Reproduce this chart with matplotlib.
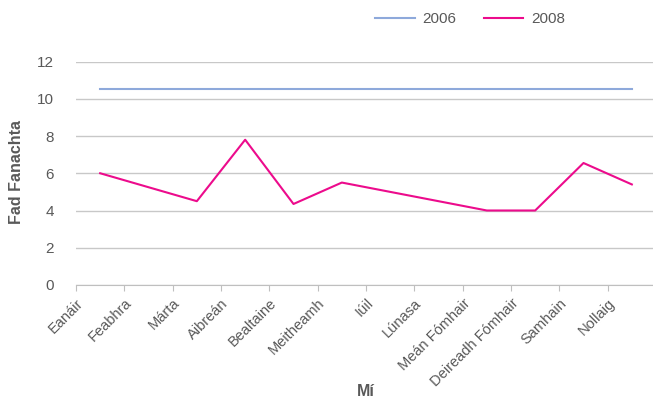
import matplotlib
matplotlib.use("Agg")
import matplotlib.pyplot as plt
import numpy as np

plt.rcParams['font.family'] = ['Liberation Sans', 'DejaVu Sans']

months = ['Eanáir', 'Feabhra', 'Márta', 'Aibreán', 'Bealtaine', 'Meitheamh',
          'Iúil', 'Lúnasa', 'Meán Fómhair', 'Deireadh Fómhair', 'Samhain', 'Nollaig']
vals_2006 = [10.5, 10.5, 10.5, 10.5, 10.5, 10.5, 10.5, 10.5, 10.5, 10.5, 10.5, 10.5]
vals_2008 = [6.0, 5.25, 4.5, 7.8, 4.35, 5.5, 5.0, 4.5, 4.0, 4.0, 6.55, 5.4]

grey = '#595959'

fig = plt.figure(figsize=(6.53, 4.01), dpi=100)
ax = fig.add_axes([76 / 653, 1 - 285 / 401, 580 / 653, 223.5 / 401])

x = np.arange(len(months))
ax.plot(x, vals_2006, color='#8EA9DB', lw=1.5, label='2006')
ax.plot(x, vals_2008, color='#EC0B8C', lw=1.5, label='2008')

ax.set_xlim(-0.5, len(months) - 0.5)
ax.set_ylim(0, 12)
ax.set_yticks(range(0, 13, 2))
ax.yaxis.grid(True, color='#C8C8C8', lw=1)
ax.set_axisbelow(True)

ax.set_xticks(x - 0.5)
ax.set_xticklabels(months, rotation=45, ha='right', rotation_mode='anchor')
ax.tick_params(axis='x', length=4, color='#BFBFBF', labelcolor=grey, labelsize=10.5, pad=4)
ax.tick_params(axis='y', length=0, labelcolor=grey, labelsize=11, pad=16)

for s in ['top', 'right', 'left']:
    ax.spines[s].set_visible(False)
ax.spines['bottom'].set_color('#BFBFBF')

fig.text(17 / 653, 1 - 172 / 401, 'Fad Fanachta', color=grey, fontsize=11.5,
         fontweight='bold', rotation=90, ha='center', va='center')
fig.text(366 / 653, 1 - 392 / 401, 'Mí', color=grey, fontsize=11.5,
         fontweight='bold', ha='center', va='center')

leg = ax.legend(loc='center', bbox_to_anchor=(470 / 653, 1 - 19 / 401),
                bbox_transform=fig.transFigure, ncol=2, frameon=False,
                fontsize=11, handlelength=2.6, columnspacing=1.8, handletextpad=0.5)
for t in leg.get_texts():
    t.set_color(grey)

fig.savefig('out.png', dpi=100)
